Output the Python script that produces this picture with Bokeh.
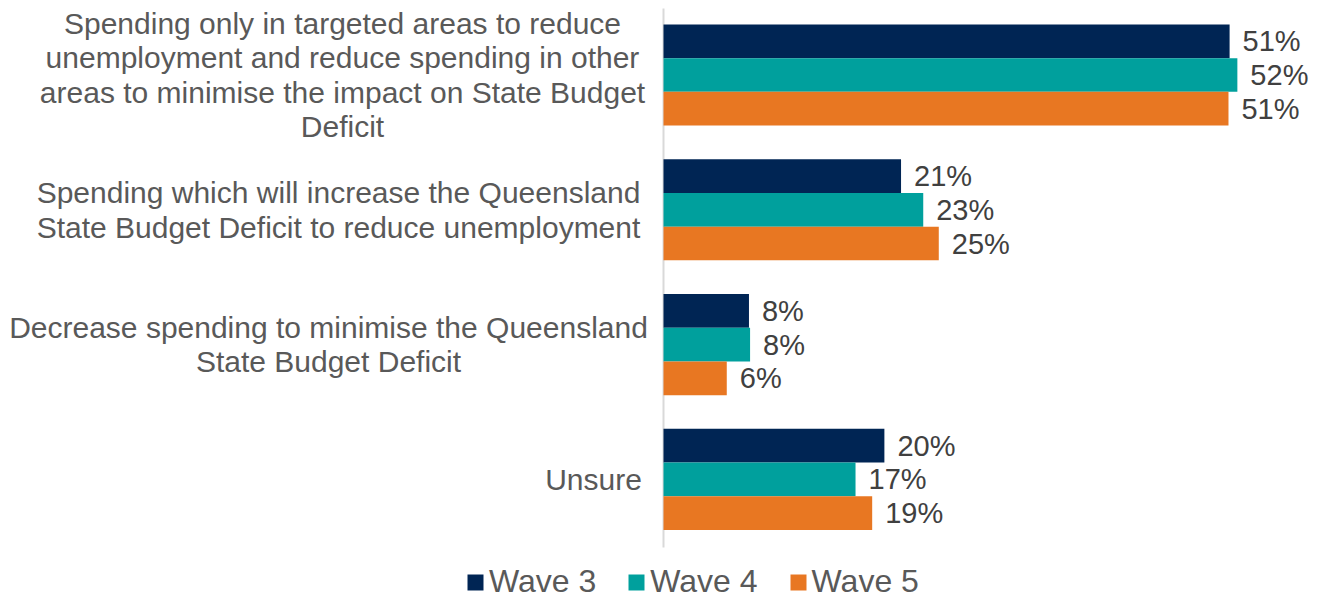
from bokeh.plotting import figure
from bokeh.models import ColumnDataSource, Range1d, Legend, LegendItem
from bokeh.core.properties import value
from bokeh.embed import file_html
from bokeh.resources import INLINE

categories = [
    "Spending only in targeted areas to reduce\nunemployment and reduce spending in other\nareas to minimise the impact on State Budget\nDeficit",
    "Spending which will increase the Queensland\nState Budget Deficit to reduce unemployment",
    "Decrease spending to minimise the Queensland\nState Budget Deficit",
    "Unsure",
]
series_names = ["Wave 3", "Wave 4", "Wave 5"]
wave3 = [51.0, 21.4, 7.7, 19.9]
wave4 = [51.7, 23.4, 7.8, 17.3]
wave5 = [50.9, 24.8, 5.7, 18.8]
colors = ["#002554", "#00A09D", "#E87722"]

FONT = "Liberation Sans"
W, H = 1311, 600
k = 11.1            # px per percent
x0_px = 663.0       # zero position in figure px
c0_px = 74.5        # first group centre in figure px
gap_px = 134.8      # group pitch

p = figure(width=W, height=H, output_backend="svg", toolbar_location=None,
           x_range=Range1d(-x0_px / k, (W - x0_px) / k),
           y_range=Range1d((H - c0_px) / gap_px, -c0_px / gap_px),
           min_border=0, outline_line_color=None)
p.xaxis.visible = False
p.yaxis.visible = False
p.grid.visible = False
p.background_fill_color = "white"
p.border_fill_color = "white"

# axis line
p.segment(x0=[0], y0=[(8 - c0_px) / gap_px], x1=[0], y1=[(547 - c0_px) / gap_px],
          line_color="#D9D9D9", line_width=2)

renderers = []
for j, (vals, col) in enumerate(zip([wave3, wave4, wave5], colors)):
    ys = [i + (j - 1) * 0.25 for i in range(len(categories))]
    src = ColumnDataSource(dict(y=ys, v=vals, lab=[f"{round(v)}%" for v in vals]))
    r = p.hbar(y="y", left=0, right="v", height=0.25, source=src,
               fill_color=col, line_color=None)
    renderers.append(r)
    p.text(x="v", y="y", text="lab", source=src, x_offset=13,
           text_align="left", text_baseline="middle",
           text_font=value(FONT), text_font_size="29px", text_color="#404040")

# category labels (centre of each block, px relative to the zero line)
cat_offsets = [342 - x0_px, 338 - x0_px, 328 - x0_px, 593 - x0_px]
csrc = ColumnDataSource(dict(x=[0] * 4, y=list(range(4)), t=categories, off=cat_offsets))
p.text(x="x", y="y", text="t", x_offset="off", source=csrc,
       text_align="center", text_baseline="middle", text_line_height=1.05,
       text_font=value(FONT), text_font_size="30px", text_color="#595959")

legend = Legend(items=[LegendItem(label=n, renderers=[r]) for n, r in zip(series_names, renderers)],
                orientation="horizontal", location=(465, 0),
                glyph_width=20, glyph_height=20, label_standoff=4, spacing=30,
                padding=0, margin=0, border_line_color=None, background_fill_alpha=0,
                label_text_font=FONT, label_text_font_size="32px", label_text_color="#595959")
p.add_layout(legend, "center")

open("out.html", "w").write(file_html(p, INLINE))
